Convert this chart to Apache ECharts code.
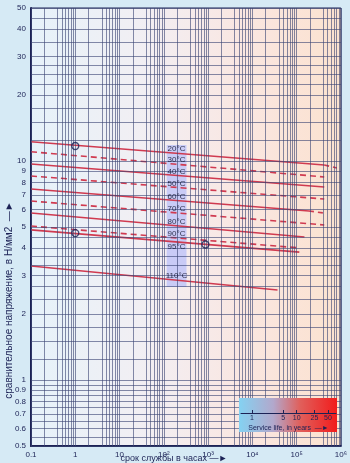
<!DOCTYPE html>
<html>
<head>
<meta charset="utf-8">
<script src="https://cdn.jsdelivr.net/npm/echarts@6/dist/echarts.min.js"></script>
<style>
  html, body { margin: 0; padding: 0; background: #d6eaf5; }
  #chart { width: 350px; height: 463px; }
</style>
</head>
<body>
<div id="chart"></div>
<script>
// Creep curves: comparative stress (N/mm²) against service time (hours), log-log.
const temperatures = ['20°C', '30°C', '40°C', '50°C', '60°C', '70°C', '80°C', '90°C', '95°C', '110°C'];
const startHours   = [0.1, 0.1, 0.1, 0.1, 0.1, 0.1, 0.1, 0.1, 0.1, 0.1];
const startStress  = [12.26, 11.03, 9.70, 8.55, 7.46, 6.57, 5.79, 5.05, 4.85, 3.32];
const endHours     = [4.2e5, 4.2e5, 4.2e5, 4.2e5, 1.9e5, 4.2e5, 1.5e5, 1.2e5, 1.15e5, 3.7e4];
const endStress    = [9.60, 8.46, 7.61, 6.71, 5.92, 5.11, 4.50, 4.01, 3.84, 2.58];

// Extrapolated continuation of two curves
const tailCurve  = [0, 4];
const tailHours  = [8.1e5, 4.2e5];
const tailStress = [9.30, 5.79];

// Reference points (circled)
const markerHours  = [1, 1, 870];
const markerStress = [11.72, 4.69, 4.16];

// Axis ticks
const xTickValues = [0.1, 1, 10, 100, 1e3, 1e4, 1e5, 1e6];
const xTickLabels = ['0.1', '1', '10', '10²', '10³', '10⁴', '10⁵', '10⁶'];
const yTickValues = [0.5, 0.6, 0.7, 0.8, 0.9, 1, 2, 3, 4, 5, 6, 7, 8, 9, 10, 20, 30, 40, 50];
const yTickLabels = ['0.5', '0.6', '0.7', '0.8', '0.9', '1', '2', '3', '4', '5', '6', '7', '8', '9', '10', '20', '30', '40', '50'];

// Grid rulings
const xGridDecades = [0.1, 1, 10, 100, 1e3, 1e4, 1e5];
const xGridSteps   = [1, 2, 4, 5, 6, 7, 8, 9];
const yGridValues  = [0.5, 0.55, 0.6, 0.65, 0.7, 0.75, 0.8, 0.85, 0.9, 0.95, 1, 1.25, 1.5, 1.75, 2, 2.33, 2.67, 3, 3.33, 3.67, 4, 4.5, 5, 6, 7, 8, 9, 10, 12.5, 15, 17.5, 20, 22.5, 25, 27.5, 30, 35, 40, 45, 50];

// Service-life scale (years)
const serviceYears  = [1, 5, 10, 25, 50];
const serviceLabels = ['1', '5', '10', '25', '50'];
const hoursPerYear = 8760;

// Temperature caption column and its shaded strip
const captionHours = 194;
const stripHours = [116, 325];
const stripStress = [2.66, 11.84];

// ---- styling / layout ----
const dashedCurve = [false, true, false, true, false, true, false, true, false, false];
const navy = '#1c2255';
const curveRed = '#d03a50';
const W = 350, H = 463;
const plot = { left: 31, right: 6, top: 8, bottom: 17 };
const xMin = 0.1, xMax = 1e6;
const box = { x: 239, y: 398, w: 98, h: 34, axisY: 413 };

const plotW = W - plot.left - plot.right;
function hoursAtPixel(px) {
  const lmin = Math.log10(xMin), lmax = Math.log10(xMax);
  return Math.pow(10, lmin + (px - plot.left) / plotW * (lmax - lmin));
}

const xGridValues = [];
xGridDecades.forEach(d => xGridSteps.forEach(s => xGridValues.push(d * s)));
xGridValues.push(xMax);

function nearestLabel(values, labels, v) {
  let best = 0;
  values.forEach((t, i) => {
    if (Math.abs(Math.log10(t) - Math.log10(v)) < Math.abs(Math.log10(values[best]) - Math.log10(v))) best = i;
  });
  return labels[best];
}

const chart = echarts.init(document.getElementById('chart'), null, { renderer: 'canvas' });

const series = [];

// grid rulings
series.push({
  type: 'line', data: [], xAxisIndex: 0, yAxisIndex: 0, z: 1, silent: true,
  markLine: {
    silent: true, symbol: ['none', 'none'], animation: false,
    label: { show: false },
    lineStyle: { color: '#3b4575', width: 1, type: 'solid', opacity: 0.62 },
    data: xGridValues.map(v => ({ xAxis: v })).concat(yGridValues.map(v => ({ yAxis: v })))
  }
});

// caption strip
series.push({
  type: 'line', data: [], z: 2, silent: true,
  markArea: {
    silent: true,
    itemStyle: { color: 'rgba(196,200,246,0.92)' },
    data: [[{ xAxis: stripHours[0], yAxis: stripStress[1] }, { xAxis: stripHours[1], yAxis: stripStress[0] }]]
  }
});

// temperature curves
temperatures.forEach((t, i) => {
  series.push({
    type: 'line', name: t, z: 3, symbol: 'none', silent: true,
    data: [[startHours[i], startStress[i]], [endHours[i], endStress[i]]],
    lineStyle: { color: curveRed, width: 1.6, type: dashedCurve[i] ? [6, 4] : 'solid' }
  });
});

// extrapolated tails
tailCurve.forEach((ci, k) => {
  series.push({
    type: 'line', z: 3, symbol: 'none', silent: true,
    data: [[endHours[ci], endStress[ci]], [tailHours[k], tailStress[k]]],
    lineStyle: { color: curveRed, width: 1.6, type: [5, 4] }
  });
});

// circled reference points
series.push({
  type: 'scatter', z: 5, symbol: 'circle', symbolSize: 7,
  data: markerHours.map((h, i) => [h, markerStress[i]]),
  itemStyle: { color: 'rgba(0,0,0,0)', borderColor: navy, borderWidth: 1.3 }
});

// temperature captions, sitting on each curve at captionHours
const captionData = temperatures.map((t, i) => {
  const l0 = Math.log10(startHours[i]), l1 = Math.log10(endHours[i]);
  const f = (Math.log10(captionHours) - l0) / (l1 - l0);
  const s = Math.pow(10, Math.log10(startStress[i]) + f * (Math.log10(endStress[i]) - Math.log10(startStress[i])));
  return {
    value: [captionHours, s],
    label: { offset: [0, t === '95°C' ? 5 : -4] }
  };
});
series.push({
  type: 'scatter', z: 6, symbolSize: 0, silent: true,
  data: captionData,
  label: {
    show: true, position: 'inside',
    formatter: p => temperatures[p.dataIndex],
    color: '#05071f', fontSize: 8, fontFamily: 'Liberation Sans'
  }
});

// service-life scale carrier
series.push({ type: 'scatter', data: [], xAxisIndex: 1, yAxisIndex: 1 });

const option = {
  animation: false,
  backgroundColor: '#d6eaf5',
  grid: [
    {
      left: plot.left, right: plot.right, top: plot.top, bottom: plot.bottom,
      show: true,
      backgroundColor: new echarts.graphic.LinearGradient(0, 0, 1, 0, [
        { offset: 0, color: '#e6f2fa' },
        { offset: 0.4, color: '#f3eef2' },
        { offset: 0.7, color: '#fae6e0' },
        { offset: 1, color: '#fbe2cf' }
      ]),
      borderColor: navy, borderWidth: 1
    },
    {
      left: box.x + 2, right: W - (box.x + box.w) + 1, top: box.y, height: box.axisY - box.y,
      show: false
    }
  ],
  xAxis: [
    {
      type: 'log', logBase: 10, min: xMin, max: xMax, gridIndex: 0,
      axisLine: { show: true, onZero: false, lineStyle: { color: navy, width: 2 } },
      axisTick: { show: false },
      splitLine: { show: false },
      minorTick: { show: false },
      axisLabel: {
        customValues: xTickValues,
        formatter: v => nearestLabel(xTickValues, xTickLabels, v),
        color: navy, fontSize: 8, margin: 5, fontFamily: 'Liberation Sans'
      }
    },
    {
      type: 'log', logBase: 10, gridIndex: 1, z: 12,
      min: hoursAtPixel(box.x + 2) / hoursPerYear,
      max: hoursAtPixel(box.x + box.w - 1) / hoursPerYear,
      axisLine: { show: true, onZero: false, lineStyle: { color: navy, width: 1 } },
      axisTick: { show: true, inside: true, length: 3, customValues: serviceYears, lineStyle: { color: navy } },
      splitLine: { show: false },
      axisLabel: {
        customValues: serviceYears,
        formatter: v => nearestLabel(serviceYears, serviceLabels, v),
        color: navy, fontSize: 7, margin: 2, fontFamily: 'Liberation Sans'
      },
      name: 'Service life, in years  —►',
      nameLocation: 'middle', nameGap: 12,
      nameTextStyle: { color: navy, fontSize: 7, fontFamily: 'Liberation Sans' }
    }
  ],
  yAxis: [
    {
      type: 'log', logBase: 10, min: 0.5, max: 50, gridIndex: 0,
      axisLine: { show: true, onZero: false, lineStyle: { color: navy, width: 2 } },
      axisTick: { show: false },
      splitLine: { show: false },
      minorTick: { show: false },
      axisLabel: {
        customValues: yTickValues,
        formatter: v => nearestLabel(yTickValues, yTickLabels, v),
        color: navy, fontSize: 8, margin: 5, fontFamily: 'Liberation Sans'
      }
    },
    { type: 'value', gridIndex: 1, show: false, min: 0, max: 1 }
  ],
  graphic: [
    {
      type: 'rect', z: 10, silent: true,
      shape: { x: box.x, y: box.y, width: box.w, height: box.h },
      style: {
        fill: new echarts.graphic.LinearGradient(0, 0, 1, 0, [
          { offset: 0, color: '#84d2f2' },
          { offset: 0.35, color: '#b2a8cc' },
          { offset: 0.62, color: '#e0605c' },
          { offset: 1, color: '#f21c1c' }
        ])
      }
    },
    {
      type: 'text', z: 10, silent: true,
      x: 9, y: 300, rotation: Math.PI / 2,
      style: {
        text: 'сравнительное напряжение, в Н/мм2  —►',
        fill: navy, font: '10px "Liberation Sans"', align: 'center', verticalAlign: 'middle'
      }
    },
    {
      type: 'text', z: 10, silent: true,
      x: 174, y: 459,
      style: {
        text: 'срок службы в часах —►',
        fill: navy, font: '9px "Liberation Sans"', align: 'center', verticalAlign: 'middle'
      }
    }
  ],
  series: series
};

chart.setOption(option);
</script>
</body>
</html>
